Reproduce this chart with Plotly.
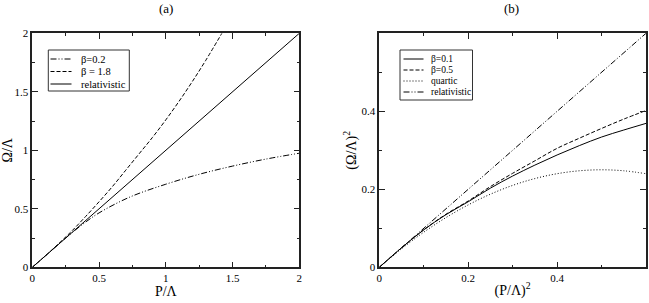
import plotly.graph_objects as go

# panel (a): Omega/Lambda vs P/Lambda
p_rel = [0, 2.0]
om_rel = [0, 2.0]

p_b18 = [0, 0.1, 0.2, 0.3, 0.4, 0.5, 0.6, 0.7, 0.8, 0.9, 1.0, 1.1, 1.2, 1.3, 1.42]
om_b18 = [0, 0.1, 0.205, 0.315, 0.435, 0.56, 0.69, 0.83, 0.97, 1.11, 1.26, 1.42, 1.59, 1.77, 2.0]

p_b02 = [0, 0.1, 0.25, 0.38, 0.5, 0.73, 1.0, 1.25, 1.5, 1.75, 2.0]
om_b02 = [0, 0.1, 0.25, 0.37, 0.465, 0.6, 0.71, 0.795, 0.865, 0.925, 0.975]

# panel (b): (Omega/Lambda)^2 vs (P/Lambda)^2
x2 = [0, 0.05, 0.1, 0.15, 0.2, 0.25, 0.3, 0.35, 0.4, 0.45, 0.5, 0.55, 0.6]
y_b01 = [0, 0.05, 0.096, 0.135, 0.168, 0.203, 0.234, 0.262, 0.288, 0.312, 0.334, 0.352, 0.369]
y_b05 = [0, 0.05, 0.096, 0.136, 0.17, 0.207, 0.241, 0.273, 0.305, 0.331, 0.356, 0.38, 0.402]
y_quart = [0, 0.0475, 0.09, 0.1275, 0.16, 0.1875, 0.21, 0.2275, 0.24, 0.2475, 0.25, 0.2475, 0.24]
x2_rel = [0, 0.6]
y2_rel = [0, 0.6]

W, H = 649, 303
SERIF = "Liberation Serif, Times New Roman, serif"
DASHDOTDOT = "6px,2px,1px,2px,1px,2px"
DASHED = "4px,2px"
DOTTED = "1px,2px"

fig = go.Figure()

def px(x):
    return x / W

def py(y):
    return 1 - y / H

def line(x, y, dash, xa, ya):
    fig.add_trace(go.Scatter(x=x, y=y, mode="lines", showlegend=False, hoverinfo="skip",
                             line=dict(color="black", width=1, dash=dash, shape="spline"),
                             xaxis=xa, yaxis=ya))

line(p_b02, om_b02, DASHDOTDOT, "x", "y")
line(p_b18, om_b18, DASHED, "x", "y")
line(p_rel, om_rel, "solid", "x", "y")

line(x2, y_b01, "solid", "x2", "y2")
line(x2, y_b05, DASHED, "x2", "y2")
line(x2, y_quart, DOTTED, "x2", "y2")
line(x2_rel, y2_rel, DASHDOTDOT, "x2", "y2")

# hand-drawn legend boxes (grace style, compact rows)
shapes, annots = [], []

def legend_box(x0, x1, y0, y1, lx0, lx1, tx, rows, size):
    shapes.append(dict(type="rect", xref="paper", yref="paper",
                       x0=px(x0), x1=px(x1), y0=py(y0), y1=py(y1),
                       line=dict(color="#333", width=1), fillcolor="white", layer="above"))
    for yy, dash, label in rows:
        shapes.append(dict(type="line", xref="paper", yref="paper",
                           x0=px(lx0), x1=px(lx1), y0=py(yy), y1=py(yy),
                           line=dict(color="black", width=1, dash=dash), layer="above"))
        annots.append(dict(text=label, x=px(tx), y=py(yy), xref="paper", yref="paper",
                           xanchor="left", yanchor="middle", showarrow=False,
                           font=dict(family=SERIF, size=size, color="black")))

legend_box(48.3, 129.3, 50, 91, 50.5, 71.5, 79,
           [(59, DASHDOTDOT, "β=0.2"), (71.5, DASHED, "β = 1.8"), (84, "solid", "relativistic")], 10.5)
legend_box(400, 472.5, 50, 100, 403.5, 423.5, 429,
           [(59, "solid", "β=0.1"), (70, DASHED, "β=0.5"), (81, DOTTED, "quartic"),
            (92, DASHDOTDOT, "relativistic")], 9.5)

annots.append(dict(text="(a)", x=px(165.7), y=py(8.5), xref="paper", yref="paper",
                   xanchor="center", yanchor="middle", showarrow=False,
                   font=dict(family=SERIF, size=13, color="black")))
annots.append(dict(text="(b)", x=px(511.7), y=py(8.5), xref="paper", yref="paper",
                   xanchor="center", yanchor="middle", showarrow=False,
                   font=dict(family=SERIF, size=13, color="black")))

axis_common = dict(showline=True, linecolor="#222", linewidth=1.5, mirror="allticks",
                   ticks="inside", ticklen=6, tickcolor="#222", showgrid=False,
                   zeroline=False, tickfont=dict(family=SERIF, size=11, color="black"),
                   automargin=False)

fig.update_layout(
    width=W, height=H,
    margin=dict(l=0, r=0, t=0, b=0),
    paper_bgcolor="white", plot_bgcolor="white",
    font=dict(family=SERIF, color="black"),
    showlegend=False,
    xaxis=dict(domain=[px(32.3), px(299.3)], range=[0, 2], tickvals=[0, 0.5, 1, 1.5, 2],
               ticktext=["0", "0.5", "1", "1.5", "2"],
               minor=dict(ticks="inside", ticklen=3, tickvals=[0.25, 0.75, 1.25, 1.75], tickcolor="#222"),
               title=dict(text="P/Λ", font=dict(size=14), standoff=2), anchor="y", **axis_common),
    yaxis=dict(domain=[py(267.3), py(33.3)], range=[0, 2], tickvals=[0, 0.5, 1, 1.5, 2],
               ticktext=["0", "0.5", "1", "1.5", "2"],
               minor=dict(ticks="inside", ticklen=3, tickvals=[0.25, 0.75, 1.25, 1.75], tickcolor="#222"),
               title=dict(text="Ω/Λ", font=dict(size=14), standoff=2), anchor="x", **axis_common),
    xaxis2=dict(domain=[px(379.3), px(646)], range=[0, 0.6], tickvals=[0, 0.2, 0.4],
                ticktext=["0", "0.2", "0.4"],
                minor=dict(ticks="inside", ticklen=3, tickvals=[0.1, 0.3, 0.5], tickcolor="#222"),
                title=dict(text="(P/Λ)<sup>2</sup>", font=dict(size=14), standoff=2), anchor="y2", **axis_common),
    yaxis2=dict(domain=[py(267.3), py(33.3)], range=[0, 0.6], tickvals=[0, 0.2, 0.4],
                ticktext=["0", "0.2", "0.4"],
                minor=dict(ticks="inside", ticklen=3, tickvals=[0.1, 0.3, 0.5], tickcolor="#222"),
                title=dict(text="(Ω/Λ)<sup>2</sup>", font=dict(size=14), standoff=2), anchor="x2", **axis_common),
    shapes=shapes,
    annotations=annots,
)

# the page body has a default 8px margin; drop it so the figure sits at the window's corner
fig.write_html("out.html", config={"displayModeBar": False},
               post_script="document.body.style.margin='0';")
